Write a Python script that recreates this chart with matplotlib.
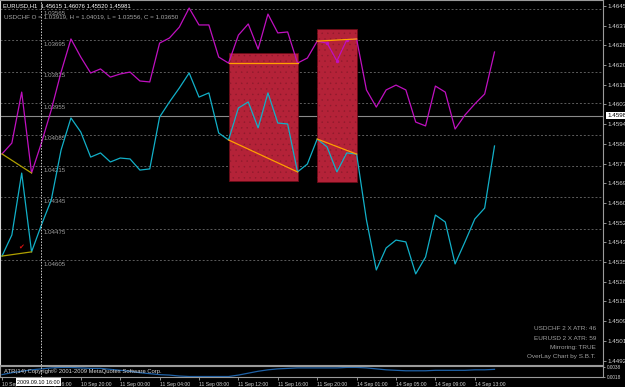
import numpy as np
import matplotlib
matplotlib.use('Agg')
import matplotlib.pyplot as plt
from matplotlib.patches import Rectangle
from matplotlib.transforms import blended_transform_factory as blend

plt.rcParams['font.family'] = ['Liberation Sans', 'DejaVu Sans']
plt.rcParams['hatch.linewidth'] = 0.3

# EURUSD H1 closes (main scale, right axis)
eurusd = [1.45376, 1.45467, 1.45734, 1.45394, 1.45510, 1.45618, 1.45834, 1.45972, 1.45911, 1.45803,
          1.45821, 1.45782, 1.45799, 1.45795, 1.45747, 1.45752, 1.45976, 1.46041, 1.46101, 1.46166,
          1.46062, 1.46080, 1.45907, 1.45877, 1.46015, 1.46041, 1.45929, 1.46080, 1.45950, 1.45946,
          1.45739, 1.45773, 1.45881, 1.45847, 1.45739, 1.45821, 1.45816, 1.45532, 1.45316, 1.45411,
          1.45445, 1.45437, 1.45299, 1.45372, 1.45553, 1.45523, 1.45342, 1.45437, 1.45536, 1.45583,
          1.45851]

# USDCHF H1 closes (overlay, mirrored scale)
usdchf = [1.04165, 1.04120, 1.03909, 1.04244, 1.04120, 1.03983, 1.03826, 1.03689, 1.03764, 1.03830,
          1.03813, 1.03847, 1.03834, 1.03826, 1.03863, 1.03867, 1.03706, 1.03685, 1.03640, 1.03561,
          1.03631, 1.03631, 1.03764, 1.03789, 1.03673, 1.03627, 1.03731, 1.03586, 1.03664, 1.03660,
          1.03789, 1.03768, 1.03698, 1.03706, 1.03780, 1.03693, 1.03689, 1.03900, 1.03971, 1.03900,
          1.03880, 1.03900, 1.04033, 1.04049, 1.03884, 1.03909, 1.04062, 1.04004, 1.03958, 1.03917,
          1.03743]

# ATR in the lower window
atr = [0.0022, 0.0026, 0.0029, 0.0032, 0.0034, 0.0036, 0.0037, 0.0037, 0.0036, 0.0035,
       0.0035, 0.0033, 0.0031, 0.0029, 0.0026, 0.0024, 0.0022, 0.0021, 0.0019, 0.0018,
       0.0018, 0.0018, 0.0018, 0.0018, 0.0021, 0.0025, 0.0029, 0.0032, 0.0034, 0.0035,
       0.0036, 0.0036, 0.0036, 0.0036, 0.0036, 0.0037, 0.0037, 0.0036, 0.0034, 0.0032,
       0.0031, 0.0030, 0.0030, 0.0030, 0.0031, 0.0031, 0.0031, 0.0031, 0.0032, 0.0032,
       0.0033]

time_ticks = [0, 4, 8, 12, 16, 20, 24, 28, 32, 36, 40, 44, 48]
time_labels = ['10 Sep 12:00', '10 Sep 16:00', '10 Sep 20:00', '11 Sep 00:00', '11 Sep 04:00',
               '11 Sep 08:00', '11 Sep 12:00', '11 Sep 16:00', '11 Sep 20:00', '14 Sep 01:00',
               '14 Sep 05:00', '14 Sep 09:00', '14 Sep 13:00']

eur_ticks = [1.44925, 1.45010, 1.45095, 1.45180, 1.45265, 1.45350, 1.45435, 1.45520, 1.45605,
             1.45690, 1.45775, 1.45860, 1.45945, 1.46030, 1.46115, 1.46200, 1.46285, 1.46370, 1.46455]
chf_levels = [1.03565, 1.03695, 1.03825, 1.03955, 1.04085, 1.04215, 1.04345, 1.04475, 1.04605]

bid = 1.45981
cursor_bar = 4

# red zones: (first bar, last bar, low, high) on EURUSD scale
zones = [(23, 30, 1.45700, 1.46252), (32, 36, 1.45696, 1.46356)]
# orange lines between bars, and olive ones at the start
orange_pairs = [(23, 30), (32, 36)]
olive_pair = (0, 3)

W, H = 625, 387
bars = np.arange(len(eurusd))
cyan = '#12b0c8'
magenta = '#c010c0'
grey = '#a8a8a8'

fig = plt.figure(figsize=(W / 100, H / 100), dpi=100, facecolor='black')

ax = fig.add_axes([0, 22 / H, 603 / W, 365 / H])
ax.set_facecolor('black')
ax2 = ax.twinx()
ax2.axis('off')

chf_tr = ax2.transData
grid_tr = blend(ax.transAxes, chf_tr)

# grid on the overlay levels
for lvl in chf_levels:
    ax.plot([0, 1], [lvl, lvl], transform=grid_tr, color='#5c5c5c', lw=0.7,
            ls=(0, (2, 2)), zorder=1)
    ax.annotate('%.5f' % lvl, xy=(cursor_bar, lvl), xycoords=blend(ax.transData, chf_tr),
                xytext=(1.5, -1.2), textcoords='offset points', ha='left', va='top',
                color='#a0a0a0', fontsize=4.4, zorder=2)

ax.axhline(bid, color='#8a8a8a', lw=0.8, zorder=1)

for b0, b1, lo, hi in zones:
    ax.add_patch(Rectangle((b0, lo), b1 - b0, hi - lo, facecolor='#b42238',
                           edgecolor='#6a0c18', lw=0.6, zorder=2))
    ax.add_patch(Rectangle((b0, lo), b1 - b0, hi - lo, facecolor='none',
                           edgecolor='#8e1a2c', hatch='...', lw=0, zorder=2))

ax.plot(bars, eurusd, color=cyan, lw=0.9, zorder=4)
ax.plot(bars, usdchf, color=magenta, lw=0.9, transform=chf_tr, zorder=4)
ax.plot(bars[33:36], usdchf[33:36], 'o', color=magenta, ms=1.5, transform=chf_tr, zorder=5)

for b0, b1 in orange_pairs:
    ax.plot([b0, b1], [eurusd[b0], eurusd[b1]], color='#ffa000', lw=0.9, zorder=5)
    ax.plot([b0, b1], [usdchf[b0], usdchf[b1]], color='#ffa000', lw=0.9,
            transform=chf_tr, zorder=5)
b0, b1 = olive_pair
ax.plot([b0, b1], [eurusd[b0], eurusd[b1]], color='#b0a000', lw=0.9, zorder=5)
ax.plot([b0, b1], [usdchf[b0], usdchf[b1]], color='#b0a000', lw=0.9, transform=chf_tr, zorder=5)
ax.text(1.9, 1.45415, '\u2714', color='#e01010', fontsize=5, ha='center', va='center',
        family='DejaVu Sans', zorder=6)

ax.axvline(cursor_bar, color='#d0d0d0', lw=0.7, ls=(0, (1.5, 1.5)), zorder=6)

ax.set_xlim(-0.203, 61.015)
ax.set_ylim(1.449059, 1.464809)
ax2.set_ylim(1.050388, 1.035277)
ax.set_xticks([])
ax.yaxis.tick_right()
ax.set_yticks(eur_ticks)
ax.set_yticklabels(['%.5f' % t for t in eur_ticks])
ax.tick_params(axis='y', colors=grey, labelcolor='#d0d0d0', labelsize=4.5, length=2,
               width=0.6, pad=1.5)
for s in ax.spines.values():
    s.set_color('#9a9a9a')
    s.set_linewidth(0.8)
ax.spines['left'].set_color('#d8d8d8')

ax.annotate('%.5f' % bid, xy=(1, bid), xycoords=blend(ax.transAxes, ax.transData),
            xytext=(3, 0), textcoords='offset points', ha='left', va='center',
            color='black', fontsize=4.5, annotation_clip=False,
            bbox=dict(boxstyle='square,pad=0.15', fc='white', ec='none'))

# lower window
axp = fig.add_axes([0, 10 / H, 603 / W, 11 / H])
axp.set_facecolor('black')
axp.plot(bars, atr, color='#1f62a8', lw=0.9)
axp.axvline(cursor_bar, color='#d0d0d0', lw=0.7, ls=(0, (1.5, 1.5)))
axp.set_xlim(ax.get_xlim())
axp.set_ylim(0.0017, 0.0040)
axp.set_xticks(time_ticks)
axp.set_xticklabels(time_labels, ha='left')
axp.yaxis.tick_right()
axp.set_yticks([0.0018, 0.0038])
axp.set_yticklabels(['0.0018', '0.0038'])
axp.tick_params(axis='x', colors=grey, labelcolor='#d0d0d0', labelsize=3.7, length=2,
                width=0.6, pad=1.5)
axp.tick_params(axis='y', colors=grey, labelcolor='#d0d0d0', labelsize=3.4, length=1.5,
                width=0.6, pad=1.5)
for s in axp.spines.values():
    s.set_color('#9a9a9a')
    s.set_linewidth(0.8)

# texts
fig.text(3 / W, 1 - 6 / H, 'EURUSD,H1  1.45615 1.46076 1.45520 1.45981', color='white',
         fontsize=4.2, va='center')
fig.text(4 / W, 1 - 17 / H, 'USDCHF O = 1.03919, H = 1.04019, L = 1.03556, C = 1.03650',
         color='#a8a8a8', fontsize=4.5, va='center')
info = ['USDCHF 2 X ATR: 46', 'EURUSD 2 X ATR: 59', 'Mirroring: TRUE', 'OverLay Chart by S.B.T.']
for i, t in enumerate(info):
    fig.text(596 / W, 1 - (329 + 9.2 * i) / H, t, color='#a0a0a0', fontsize=4.6,
             ha='right', va='center')
fig.text(4 / W, 1 - 371 / H, 'ATR(14) Copyright\u00a9 2001-2009 MetaQuotes Software Corp.',
         color='#d8d8d8', fontsize=4.2, va='center')
fig.text(17 / W, 1 - 382 / H, '2009.09.10 16:00', color='black', fontsize=3.9, va='center',
         bbox=dict(boxstyle='square,pad=0.2', fc='white', ec='none'))

fig.savefig('out.png', dpi=100, facecolor='black')
